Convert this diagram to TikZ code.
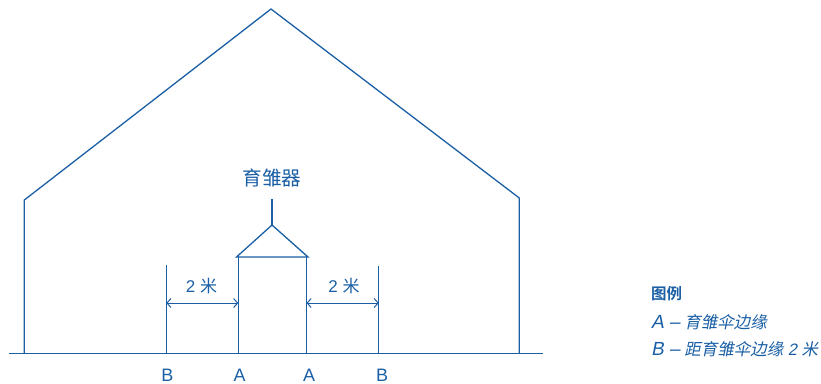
\documentclass[tikz,border=0pt]{standalone}
\usepackage{fontspec}
\setmainfont{Liberation Sans}
\newfontfamily\cjk{Noto Sans CJK SC}
\newfontfamily\cjkb[BoldFont={Noto Sans CJK SC Bold}]{Noto Sans CJK SC}
\newfontfamily\cjkit[FakeSlant=0.2]{Noto Sans CJK SC}
\newfontfamily\latit[FakeSlant=0.2]{Liberation Sans}
\usetikzlibrary{arrows.meta}
\definecolor{blu}{HTML}{1A5FA5}
\tikzset{
 ln/.style={draw=blu,line width=1.3pt,line cap=butt,line join=miter},
 dim/.style={draw=blu,line width=1pt,{Straight Barb[length=4pt,width=9pt]}-{Straight Barb[length=4pt,width=9pt]}},
 lab/.style={text=blu,inner sep=0pt,font=\fontsize{18}{20}\selectfont},
 leg/.style={text=blu,inner sep=0pt,anchor=west}
}
\begin{document}
\begin{tikzpicture}[x=1pt,y=-1pt]
\useasboundingbox (0,0) rectangle (821,383);
\coordinate (g1) at (9,353.5);
\coordinate (g2) at (543,353.5);
\coordinate (h1) at (24.3,353.5);
\coordinate (h2) at (24.3,200);
\coordinate (h3) at (271,9);
\coordinate (h4) at (519.3,198);
\coordinate (h5) at (519.3,353.5);
\coordinate (bl) at (166.3,353.5);
\coordinate (blt) at (166.3,265);
\coordinate (br) at (378.8,353.5);
\coordinate (brt) at (378.8,266);
\coordinate (al) at (238.3,353.5);
\coordinate (alt) at (238.3,257);
\coordinate (ar) at (306.5,353.5);
\coordinate (art) at (306.5,257);
\coordinate (rl) at (236.5,257);
\coordinate (rr) at (308,257);
\coordinate (rt) at (272,225);
\coordinate (st) at (272,199);
\coordinate (d1) at (166.3,303);
\coordinate (d2) at (238.3,303);
\coordinate (d3) at (306.5,303);
\coordinate (d4) at (378.8,303);
\draw[ln] (g1)--(g2);
\draw[ln] (h1)--(h2)--(h3)--(h4)--(h5);
\draw[ln] (bl)--(blt);
\draw[ln] (br)--(brt);
\draw[ln] (al)--(alt);
\draw[ln] (ar)--(art);
\draw[ln] (rl)--(rr)--(rt)--cycle;
\draw[ln] (rt)--(st);
\draw[dim] (d1)--(d2);
\draw[dim] (d3)--(d4);
\node[lab,font=\fontsize{19.6}{21}\selectfont\cjk] (t) at (272,178) {育雏器};
\node[lab,font=\fontsize{17}{19}\selectfont] (m1) at (201.5,286) {2 {\cjk 米}};
\node[lab,font=\fontsize{17}{19}\selectfont] (m2) at (344,286) {2 {\cjk 米}};
\node[lab] (B1) at (167.5,375.5) {B};
\node[lab] (A1) at (239.5,375.5) {A};
\node[lab] (A2) at (309,375.5) {A};
\node[lab] (B2) at (382,375.5) {B};
\node[leg,font=\fontsize{15.5}{17}\selectfont\cjkb\bfseries] (L0) at (651,294) {图例};
\node[leg,font=\fontsize{16.5}{18}\selectfont] (L1) at (651,322) {{\latit\fontsize{19}{20}\selectfont A –} {\cjkit 育雏伞边缘}};
\node[leg,font=\fontsize{16.5}{18}\selectfont] (L2) at (651,349) {{\latit\fontsize{19}{20}\selectfont B –} {\cjkit 距育雏伞边缘} {\latit 2} {\cjkit 米}};
\end{tikzpicture}
\end{document}
